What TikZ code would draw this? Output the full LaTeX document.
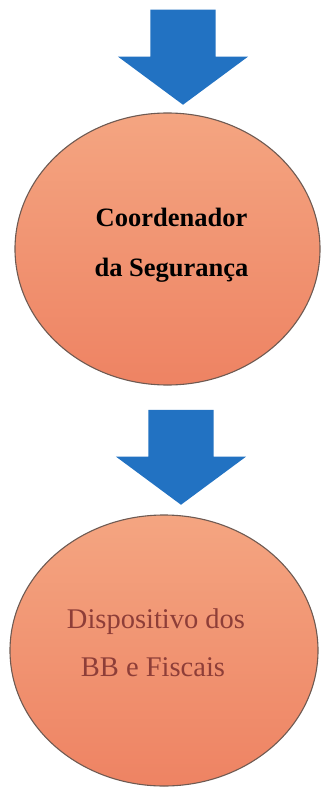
\documentclass[tikz,border=0pt]{standalone}
\usepackage{fontspec}
\setmainfont{Liberation Serif}
\usepackage{xcolor}
\usepackage{tikz}
\usetikzlibrary{shapes.geometric, shapes.arrows}
\definecolor{arrowblue}{HTML}{2272C2}
\definecolor{peachtop}{HTML}{F4A581}
\definecolor{peachbot}{HTML}{EE8363}
\definecolor{rimgray}{HTML}{6E5A52}
\definecolor{mutedred}{HTML}{8E3E38}
\newcommand{\flatline}[1]{\raisebox{-2pt}[0pt][0pt]{#1}}

\begin{document}
\begin{tikzpicture}[
  x=1pt, y=-1pt,
  flowarrow/.style={
    single arrow, fill=arrowblue, draw=none,
    rotate=-90, inner xsep=0pt, inner ysep=32.5pt,
    minimum height=95pt,
    single arrow head extend=32.5pt, single arrow tip angle=107,
    single arrow head indent=0pt
  },
  role/.style={
    ellipse, draw=rimgray, line width=1.1pt,
    top color=peachtop, bottom color=peachbot,
    inner sep=0pt, align=center
  }
]
\useasboundingbox (0,0) rectangle (321,789);

% Upper level
\node[flowarrow, anchor=tip] (arrA) at (183,105) {};
\node[role, minimum width=305pt, minimum height=272pt,
      font=\fontsize{26.5}{50}\selectfont\bfseries] (coord) at (167.5,249)
  {\flatline{Coordenador\hspace*{-8pt}}\\\flatline{da Segurança\hspace*{-8pt}}};

% Lower level
\node[flowarrow, anchor=tip] (arrB) at (181,505) {};
\node[role, minimum width=308pt, minimum height=271pt, text=mutedred,
      font=\fontsize{28.5}{48}\selectfont] (disp) at (164,650.5)
  {\flatline{Dispositivo dos\hspace*{16pt}}\\\flatline{BB e Fiscais\hspace*{22pt}}};

\end{tikzpicture}
\end{document}
